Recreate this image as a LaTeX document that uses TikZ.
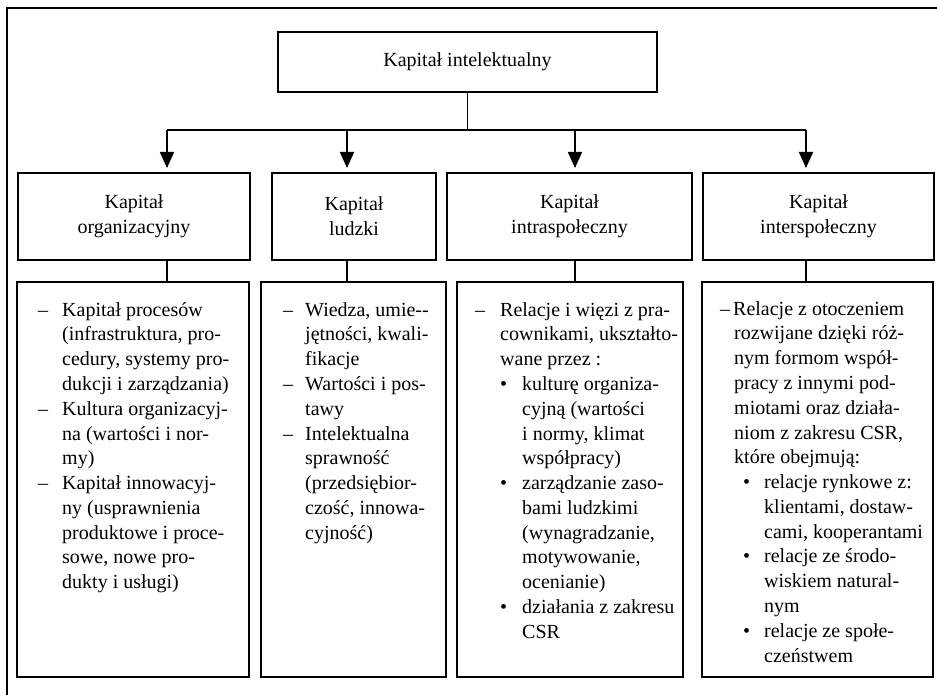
\documentclass[tikz,border=0pt]{standalone}
\usepackage{fontspec}
\setmainfont{Liberation Serif}
\usetikzlibrary{arrows.meta}

% one line of a list: dash item, continuation, bullet item
\newcommand\Dashln[2]{\hbox{\makebox[#1][l]{–}#2}}
\newcommand\Indln[2]{\hbox{\hspace*{#1}#2}}
\newcommand\Bulln[3]{\hbox{\hspace*{#1}\makebox[#2][l]{\textbullet}#3}}

\tikzset{
  txt/.style={font=\fontsize{20}{24.8}\selectfont},
  panel/.style={draw, line width=1.8pt, rectangle, inner sep=0pt, outer sep=0pt, txt, align=center},
  link/.style={line width=1.8pt},
  arr/.style={line width=1.8pt, -{Triangle[width=14pt,length=16pt]}, shorten >=5pt},
  frameln/.style={line width=2pt},
  listtxt/.style={txt, anchor=base west, inner sep=0pt}
}

% rectangle node from its corners (x1,y1) (x2,y2)
\newcommand\Panel[6][]{%
  \node[panel, minimum width={#5-#3}, minimum height={#6-#4}, #1]
    (#2) at ({(#3+#5)/2},{(#4+#6)/2}) }

\begin{document}
\begin{tikzpicture}[x=1pt,y=-1pt]
\useasboundingbox (0,0) rectangle (937,695);

% outer frame (top and left edges)
\coordinate (fbl) at (7,695);
\coordinate (ftl) at (7,8);
\coordinate (ftr) at (937,8);
\draw[frameln] (fbl) -- (ftl) -- (ftr);

% top box
\Panel{top}{278}{32}{657}{92} {Kapitał intelektualny};

% second row
\Panel{k1}{18}{173}{250}{260} {Kapitał\\organizacyjny};
\Panel{k2}{272}{173}{436}{260} {Kapitał\\ludzki};
\Panel{k3}{447}{173}{692}{260} {Kapitał\\intraspołeczny};
\Panel{k4}{703}{173}{934}{260} {Kapitał\\interspołeczny};

% third row
\Panel{d1}{17}{282}{249}{677} {};
\Panel{d2}{261}{282}{446}{677} {};
\Panel{d3}{457}{282}{683}{677} {};
\Panel{d4}{702}{282}{933}{677} {};

% distribution bar
\coordinate (hub) at (top.south |- 0,130);
\coordinate (c1) at (167,130);
\coordinate (c2) at (347,130);
\coordinate (c3) at (575,130);
\coordinate (c4) at (806,130);
\draw[link] (top.south) -- (hub);
\draw[link] (c1) -- (c4);
\foreach \i in {1,2,3,4}{
  \draw[arr] (c\i) -- (c\i |- k\i.north);
  \draw[link] (k\i.south -| c\i) -- (d\i.north -| c\i);
}

% list texts
\node[listtxt] (t1) at (38,316) {\vtop{%
  \Dashln{24pt}{Kapitał procesów}
  \Indln{24pt}{(infrastruktura, pro-}
  \Indln{24pt}{cedury, systemy pro-}
  \Indln{24pt}{dukcji i zarządzania)}
  \Dashln{24pt}{Kultura organizacyj-}
  \Indln{24pt}{na (wartości i nor-}
  \Indln{24pt}{my)}
  \Dashln{24pt}{Kapitał innowacyj-}
  \Indln{24pt}{ny (usprawnienia}
  \Indln{24pt}{produktowe i proce-}
  \Indln{24pt}{sowe, nowe pro-}
  \Indln{24pt}{dukty i usługi)}}};

\node[listtxt] (t2) at (283,316) {\vtop{%
  \Dashln{22pt}{Wiedza, umie-{}-}
  \Indln{22pt}{jętności, kwali-}
  \Indln{22pt}{fikacje}
  \Dashln{22pt}{Wartości i pos-}
  \Indln{22pt}{tawy}
  \Dashln{22pt}{Intelektualna}
  \Indln{22pt}{sprawność}
  \Indln{22pt}{(przedsiębior-}
  \Indln{22pt}{czość, innowa-}
  \Indln{22pt}{cyjność)}}};

\node[listtxt] (t3) at (475,316) {\vtop{%
  \Dashln{25pt}{Relacje i więzi z pra-}
  \Indln{25pt}{cownikami, ukształto-}
  \Indln{25pt}{wane przez :}
  \Bulln{25pt}{22pt}{kulturę organiza-}
  \Indln{47pt}{cyjną (wartości}
  \Indln{47pt}{i normy, klimat}
  \Indln{47pt}{współpracy)}
  \Bulln{25pt}{22pt}{zarządzanie zaso-}
  \Indln{47pt}{bami ludzkimi}
  \Indln{47pt}{(wynagradzanie,}
  \Indln{47pt}{motywowanie,}
  \Indln{47pt}{ocenianie)}
  \Bulln{25pt}{22pt}{działania z zakresu}
  \Indln{47pt}{CSR}}};

\node[listtxt] (t4) at (720,315) {\vtop{%
  \Dashln{13pt}{Relacje z otoczeniem}
  \Indln{14pt}{rozwijane dzięki róż-}
  \Indln{14pt}{nym formom współ-}
  \Indln{14pt}{pracy z innymi pod-}
  \Indln{14pt}{miotami oraz działa-}
  \Indln{14pt}{niom z zakresu CSR,}
  \Indln{14pt}{które obejmują:}
  \Bulln{23pt}{21pt}{relacje rynkowe z:}
  \Indln{44pt}{klientami, dostaw-}
  \Indln{44pt}{cami, kooperantami}
  \Bulln{23pt}{21pt}{relacje ze środo-}
  \Indln{44pt}{wiskiem natural-}
  \Indln{44pt}{nym}
  \Bulln{23pt}{21pt}{relacje ze społe-}
  \Indln{44pt}{czeństwem}}};
\end{tikzpicture}
\end{document}
